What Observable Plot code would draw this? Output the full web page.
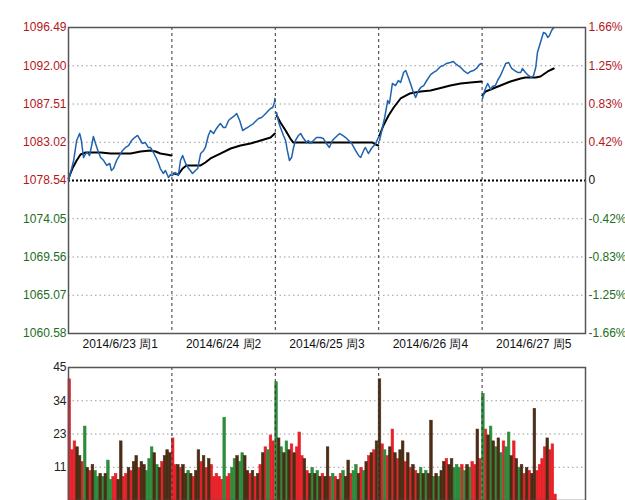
<!DOCTYPE html>
<html><head><meta charset="utf-8">
<script src="https://cdn.jsdelivr.net/npm/d3@7"></script>
<script src="https://cdn.jsdelivr.net/npm/@observablehq/plot@0.6"></script>
<style>
html,body{margin:0;padding:0;background:#fff;overflow:hidden;width:625px;height:500px;}
#chart svg{display:block;}
</style></head><body><div id="chart"></div>
<script>
// ---- data ----
const MIN_PER_DAY = 241;
const dayLabels = ["2014/6/23 周1", "2014/6/24 周2", "2014/6/25 周3", "2014/6/26 周4", "2014/6/27 周5"];
const baseline = 1078.54;
const priceTicks = [1096.49, 1092.00, 1087.51, 1083.02, 1078.54, 1074.05, 1069.56, 1065.07, 1060.58];
const priceTickLabels = ["1096.49", "1092.00", "1087.51", "1083.02", "1078.54", "1074.05", "1069.56", "1065.07", "1060.58"];
const pctTickLabels = ["1.66%", "1.25%", "0.83%", "0.42%", "0", "-0.42%", "-0.83%", "-1.25%", "-1.66%"];
const volTicks = [11.25, 22.5, 33.75, 45];
const volTickLabels = ["11", "23", "34", "45"];

// minute of week (241 minutes per trading day)
const priceTime = [
  0,5,12,19,26,30,35,40,44,49,54,58,63,70,75,82,89,96,100,105,112,119,126,133,140,147,154,161,168,172,179,186,191,198,205,210,214,221,226,233,238,240,
  242,249,256,261,266,273,280,284,289,296,301,308,315,319,326,331,338,345,350,354,361,366,373,378,385,392,399,406,413,417,424,431,438,443,450,455,462,466,471,476,480,481,
  485,490,494,501,506,510,515,520,524,529,536,541,548,555,559,564,571,578,587,594,601,608,615,622,632,639,646,653,660,669,676,681,688,692,699,706,716,722,
  725,730,737,744,748,755,762,769,774,781,786,793,797,804,809,816,821,828,835,844,851,858,867,874,881,890,897,904,914,921,930,937,944,951,958,963,
  965,970,977,984,988,995,1000,1007,1014,1019,1026,1033,1040,1047,1054,1058,1065,1072,1079,1084,1089,1093,1100,1107,1112,1117,1121,1126,1131
];
const priceValue = [
  1078.54,1079.47,1080.88,1083.23,1084.05,1083.23,1081.23,1081.70,1081.82,1081.47,1082.64,1083.70,1082.88,1081.82,1081.23,1080.88,1080.30,1080.53,1079.71,1079.94,1080.88,1081.47,1082.06,1082.41,1082.64,1083.23,1083.58,1083.82,1083.23,1082.88,1082.99,1082.41,1082.41,1081.82,1081.12,1080.53,1079.94,1079.36,1079.71,1078.89,1079.24,1079.12,
  1079.12,1079.47,1079.12,1080.88,1081.47,1080.53,1079.94,1079.71,1079.36,1079.71,1079.94,1081.70,1082.06,1082.41,1083.82,1084.40,1084.05,1084.64,1084.99,1085.22,1084.75,1084.75,1085.58,1085.81,1086.05,1086.40,1085.58,1084.40,1084.64,1084.75,1084.99,1085.22,1085.58,1085.81,1085.93,1086.16,1086.52,1086.75,1086.98,1087.10,1087.69,1088.16,
  1086.52,1085.34,1084.75,1083.82,1083.23,1082.06,1080.88,1081.23,1082.29,1083.23,1083.82,1084.05,1083.46,1082.99,1083.23,1082.88,1083.23,1083.58,1083.58,1083.46,1082.88,1082.41,1083.23,1083.58,1084.05,1083.82,1083.58,1083.23,1082.88,1082.06,1081.47,1081.23,1082.06,1082.41,1081.70,1082.29,1082.88,1083.58,
  1083.23,1084.40,1085.93,1087.92,1087.57,1089.92,1089.68,1090.27,1090.04,1091.21,1091.44,1090.51,1089.92,1088.86,1088.28,1089.10,1089.45,1089.68,1090.27,1090.97,1091.21,1091.44,1091.91,1092.03,1092.27,1092.38,1092.50,1092.15,1091.80,1091.44,1091.09,1091.33,1091.44,1091.68,1092.15,1092.27,
  1088.16,1089.10,1089.92,1089.21,1089.57,1089.68,1090.27,1090.86,1091.68,1092.27,1092.38,1091.68,1091.44,1091.21,1091.21,1091.68,1091.21,1090.86,1090.62,1090.86,1091.80,1093.56,1094.73,1095.90,1095.79,1095.32,1095.55,1096.14,1096.49
];
const avgTime = [
  0,9,19,28,40,51,75,98,121,145,168,191,203,214,228,240,
  245,256,266,275,296,308,319,331,354,378,401,424,448,471,481,
  485,494,506,517,524,541,587,634,681,709,716,722,
  725,734,746,758,774,795,821,844,872,890,914,937,963,
  965,972,984,995,1007,1030,1054,1065,1089,1100,1117,1131
];
const avgValue = [
  1078.77,1079.94,1080.88,1081.59,1081.82,1081.82,1081.82,1081.70,1081.70,1081.70,1081.94,1082.06,1081.94,1081.70,1081.59,1081.47,
  1079.36,1079.24,1079.94,1080.30,1080.30,1080.30,1080.65,1081.12,1081.70,1082.29,1082.64,1082.88,1083.23,1083.58,1084.05,
  1086.16,1085.34,1084.40,1083.46,1082.99,1082.99,1082.99,1082.99,1082.99,1082.99,1082.76,1082.64,
  1083.82,1084.99,1086.16,1087.10,1088.16,1088.74,1088.98,1089.10,1089.45,1089.68,1089.92,1090.04,1090.15,
  1088.51,1088.98,1089.21,1089.45,1089.68,1090.15,1090.51,1090.62,1090.62,1090.74,1091.33,1091.68
];

// volume, 6-minute bins per day; direction: r = up, g = down, b = mixed
const vol1 = [41,17,20,18,15,13,25,11,10,12, 10,8,9,8,9,13.5,7,8,9,7, 20,8,9,11,10,13,15,11,13,12, 10,14,18,16,12,11,13,15,17,16];
const dir1 = "rrrbbrgbrbggbgbggrrbbrrbrbbrbbgggbgbrbbb";
const vol2 = [21,12,12,11,12,9,10,9,8,10, 17,13,15,11,14,12,8,9,8,7, 28,8,9,11,14,15,13,16,15,10, 9,10,8,9,12,16,18,17,22,20];
const dir2 = "rrbrbbgbrbbrbrbrrrrrgrrggbggbbrbrbrbrgrr";
const vol3 = [40,21,18,16,20,17,19,16,18,23, 15,14,10,9,11,9,10,8,9,8, 18,8,9,8,7,9,10,8,13.5,9, 10,12,9,11,10,13,15,16,17,20];
const dir3 = "gbgbgbrbrrrbrbgbgbrbbrgrbrgbbrggbrgbrbrb";
const vol4 = [41,19,17,15,18,24,16,14,17,20, 13,16,11,12,10,9,11,9,10,9, 27,8,9,8,10,13,14,12,14,11, 12,11,12,10,12,11,13,12,24,14];
const dir4 = "brgrbrbrbbrbrbrbgbgbbgbgbbrbbgggrgbgrrbr";
const vol5 = [36,24,22,25,20,18,21,16,20,18, 23,15,20,14,11,12,9,11,10,9, 31,10,12,14,18,21,17,19,2];
const dir5 = "grbgbgbgrggbrbgbrbrbbrrrrbrrr";

// ---- build rows ----
const priceRows = priceTime.map((t, i) => ({t, v: priceValue[i], day: Math.floor(t / MIN_PER_DAY)}));
const avgRows = avgTime.map((t, i) => ({t, v: avgValue[i], day: Math.floor(t / MIN_PER_DAY)}));
const BIN = 6;
const volRows = [];
[[vol1, dir1], [vol2, dir2], [vol3, dir3], [vol4, dir4], [vol5, dir5]].forEach(([vals, dirs], d) => {
  vals.forEach((v, i) => {
    const x1 = d * MIN_PER_DAY + i * BIN;
    volRows.push({x1, x2: Math.min(x1 + BIN, (d + 1) * MIN_PER_DAY), v, dir: dirs[i]});
  });
});
const dayBounds = [1, 2, 3, 4].map(d => d * MIN_PER_DAY);
const dayCenters = [0, 1, 2, 3, 4].map(d => d * MIN_PER_DAY + 120.5);
const xDomain = [0, 5 * MIN_PER_DAY];

const font = "'Liberation Sans', Arial, sans-serif";
const RED = "#b3161b", GREEN = "#1c6e22";

const topPlot = Plot.plot({
  width: 625, height: 360,
  marginLeft: 68, marginRight: 40, marginTop: 27, marginBottom: 27,
  style: {fontFamily: font, fontSize: "12px", background: "transparent", overflow: "visible"},
  x: {domain: xDomain, axis: null},
  y: {domain: [priceTicks[8], priceTicks[0]], axis: null},
  marks: [
    Plot.ruleY(priceTicks.filter(d => d !== baseline && d !== priceTicks[0] && d !== priceTicks[8]), {stroke: "#9a9a9a", strokeDasharray: "1.5,3"}),
    Plot.ruleX(dayBounds, {stroke: "#333", strokeDasharray: "3,3"}),
    Plot.ruleY([baseline], {stroke: "#000", strokeWidth: 2, strokeDasharray: "2,2"}),
    Plot.line(avgRows, {x: "t", y: "v", z: "day", stroke: "#000", strokeWidth: 2}),
    Plot.line(priceRows, {x: "t", y: "v", z: "day", stroke: "#1f63ad", strokeWidth: 1.5}),
    Plot.frame({stroke: "#555", strokeWidth: 1.5}),
    Plot.text(priceTicks, {frameAnchor: "left", y: d => d, dx: -2, textAnchor: "end", text: (d, i) => priceTickLabels[i], fill: RED, filter: d => d >= baseline}),
    Plot.text(priceTicks, {frameAnchor: "left", y: d => d, dx: -2, textAnchor: "end", text: (d, i) => priceTickLabels[i], fill: GREEN, filter: d => d < baseline}),
    Plot.text(priceTicks, {frameAnchor: "right", y: d => d, dx: 3, textAnchor: "start", text: (d, i) => pctTickLabels[i], fill: RED, filter: d => d > baseline}),
    Plot.text(priceTicks, {frameAnchor: "right", y: d => d, dx: 3, textAnchor: "start", text: (d, i) => pctTickLabels[i], fill: "#111", filter: d => d === baseline}),
    Plot.text(priceTicks, {frameAnchor: "right", y: d => d, dx: 3, textAnchor: "start", text: (d, i) => pctTickLabels[i], fill: GREEN, filter: d => d < baseline}),
    Plot.text(dayCenters, {x: d => d, frameAnchor: "bottom", dy: 14, text: (d, i) => dayLabels[i], fill: "#111"})
  ]
});

const colors = {r: "#e8222a", g: "#2d8c3c", b: "#4b2c14"};
const volPlot = Plot.plot({
  width: 625, height: 150,
  marginLeft: 68, marginRight: 40, marginTop: 7, marginBottom: 10,
  style: {fontFamily: font, fontSize: "12px", background: "transparent", overflow: "visible"},
  x: {domain: xDomain, axis: null},
  y: {domain: [0, 45], axis: null},
  marks: [
    Plot.ruleY(volTicks.slice(0, 3), {stroke: "#9a9a9a", strokeDasharray: "1.5,3"}),
    ...Object.keys(colors).map(k => Plot.rectY(volRows, {x1: "x1", x2: "x2", y: "v", fill: colors[k], stroke: colors[k], strokeWidth: 0.6, filter: d => d.dir === k})),
    Plot.ruleX(dayBounds, {stroke: "#333", strokeDasharray: "3,3"}),
    Plot.frame({stroke: "#555", strokeWidth: 1.5}),
    Plot.text(volTicks, {frameAnchor: "left", y: d => d, dx: -2, textAnchor: "end", text: (d, i) => volTickLabels[i], fill: "#222"})
  ]
});

const el = document.getElementById("chart");
el.appendChild(topPlot);
el.appendChild(volPlot);
</script></body></html>
